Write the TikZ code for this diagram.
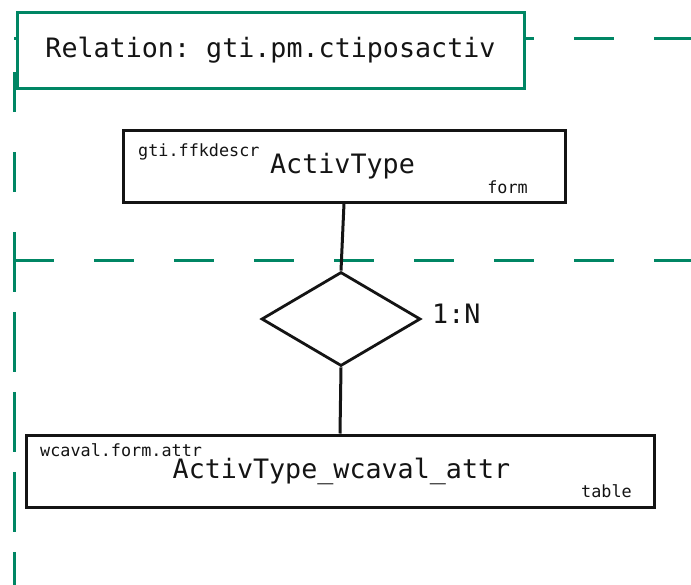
\documentclass[tikz,border=0pt]{standalone}
\usepackage{fontspec}
\setmonofont{DejaVu Sans Mono}
\usetikzlibrary{shapes.geometric}
\definecolor{clgreen}{RGB}{0,134,100}
\definecolor{ink}{RGB}{20,20,20}
\begin{document}
\begin{tikzpicture}[x=1pt,y=-1pt,
  cluster/.style={draw=clgreen,line width=3pt},
  relbox/.style={draw=clgreen,line width=3pt,fill=white,rectangle,inner sep=0pt},
  entity/.style={draw=ink,line width=3pt,fill=white,rectangle,inner sep=0pt},
  relship/.style={draw=ink,line width=2.8pt,fill=white,diamond,inner sep=0pt},
  bigtxt/.style={font=\ttfamily\fontsize{26.7}{30}\selectfont,text=ink,inner sep=0pt},
  smalltxt/.style={font=\ttfamily\fontsize{16.8}{20}\selectfont,text=ink,inner sep=0pt},
  link/.style={draw=ink,line width=3pt}]
\useasboundingbox (0,0) rectangle (691,584);
\fill[white] (0,0) rectangle (691,584);
\clip (0,0) rectangle (691,584);
% cluster borders
\coordinate (tl) at (14,38);
\coordinate (tr) at (700,38);
\coordinate (ml) at (14,260);
\coordinate (mr) at (700,260);
\coordinate (bl) at (14,600);
\draw[cluster,dash pattern=on 40pt off 40pt] (tl) -- (tr);
\draw[cluster,dash pattern=on 40pt off 40pt,dash phase=12pt] (ml) -- (tl);
\draw[cluster,dash pattern=on 40pt off 40pt] (ml) -- (mr);
\draw[cluster,dash pattern=on 60pt off 20pt,dash phase=28pt] (ml) -- (bl);
% relation label
\node[relbox,minimum width=507pt,minimum height=76pt] (rel) at (270.5,50) {};
\node[bigtxt] (reltxt) at (rel.center) {Relation: gti.pm.ctiposactiv};
% shapes
\node[entity,minimum width=442pt,minimum height=72pt] (act) at (344,166) {};
\node[relship,minimum width=159pt,minimum height=94pt] (diam) at (341,319) {};
\node[entity,minimum width=628pt,minimum height=72pt] (tab) at (340,471) {};
% links
\draw[link] (act.south) -- (diam.north);
\draw[link] (diam.south) -- (tab.north);
% texts
\node[bigtxt,anchor=base] (acttitle) at (342.5,173) {ActivType};
\node[smalltxt,anchor=base west] (actschema) at (138,156) {gti.ffkdescr};
\node[smalltxt,anchor=base east] (actkind) at (528,193) {form};
\node[bigtxt,anchor=base] (tabtitle) at (341.5,478) {ActivType\_wcaval\_attr};
\node[smalltxt,anchor=base west] (tabschema) at (40,456) {wcaval.form.attr};
\node[smalltxt,anchor=base east] (tabkind) at (632,497) {table};
\node[bigtxt,anchor=west] (card) at (432,314) {1:N};
\end{tikzpicture}
\end{document}
